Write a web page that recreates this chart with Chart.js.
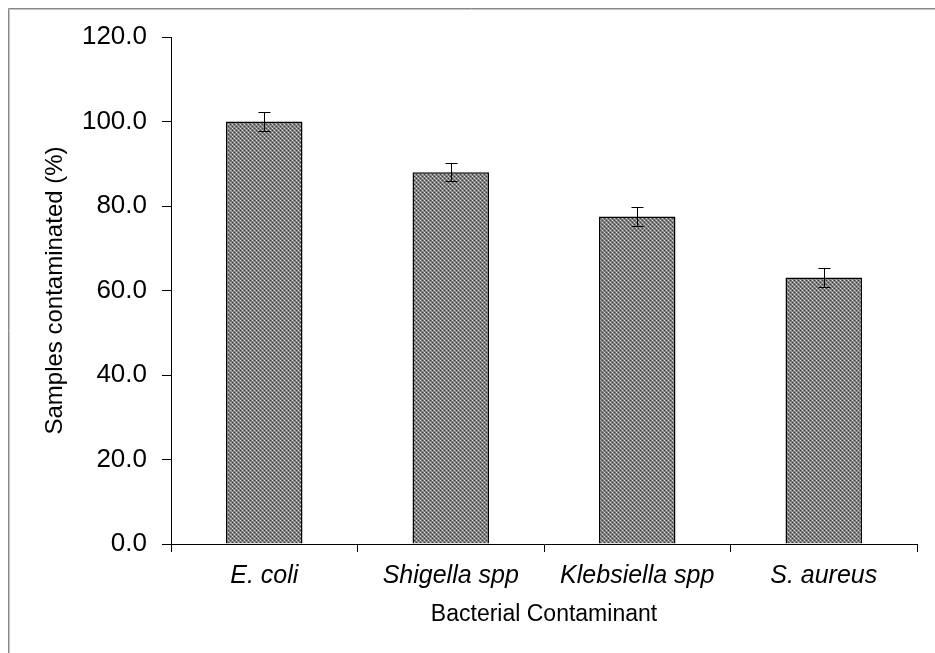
<!DOCTYPE html>
<html lang="en">
<head>
  <meta charset="UTF-8" />
  <title>Bacterial Contaminant</title>
  <script src="https://cdn.jsdelivr.net/npm/chart.js"></script>
  <style>
    html, body { margin: 0; padding: 0; background: #fff; }
    #wrap { width: 935px; height: 653px; }
  </style>
</head>
<body>
  <div id="wrap"><canvas id="chart" width="935" height="653"></canvas></div>
  <script>
    const categories = ['E. coli', 'Shigella spp', 'Klebsiella spp', 'S. aureus'];
    const contaminated = [100.0, 88.0, 77.5, 63.1];
    const errors = [2.2, 2.2, 2.2, 2.2];

    // checkered grey fill like the original
    function makePattern() {
      const c = document.createElement('canvas');
      c.width = 4; c.height = 4;
      const g = c.getContext('2d');
      g.fillStyle = '#7c7c7c';
      g.fillRect(0, 0, 4, 4);
      g.fillStyle = '#d4d4d4';
      g.fillRect(0, 0, 1, 1);
      g.fillRect(2, 2, 1, 1);
      g.fillStyle = '#404040';
      g.fillRect(2, 0, 1, 1);
      g.fillRect(0, 2, 1, 1);
      g.fillStyle = '#a0a0a0';
      g.fillRect(1, 1, 1, 1);
      g.fillRect(3, 3, 1, 1);
      return g.createPattern(c, 'repeat');
    }

    const frame = {
      id: 'frame',
      beforeDraw(chart) {
        const ctx = chart.ctx;
        ctx.save();
        ctx.fillStyle = '#fff';
        ctx.fillRect(0, 0, chart.width, chart.height);
        ctx.strokeStyle = '#8a8a8a';
        ctx.lineWidth = 1;
        ctx.beginPath();
        ctx.moveTo(8.5, chart.height);
        ctx.lineTo(8.5, 8.5);
        ctx.lineTo(chart.width, 8.5);
        ctx.stroke();
        ctx.strokeStyle = '#c4c4c4';
        ctx.beginPath();
        ctx.moveTo(9.5, chart.height);
        ctx.lineTo(9.5, 9.5);
        ctx.lineTo(chart.width, 9.5);
        ctx.stroke();
        ctx.restore();
      }
    };

    const errorBars = {
      id: 'errorBars',
      afterDatasetsDraw(chart) {
        const ctx = chart.ctx;
        const y = chart.scales.y;
        const meta = chart.getDatasetMeta(0);
        ctx.save();
        ctx.strokeStyle = '#000';
        ctx.lineWidth = 1;
        meta.data.forEach((bar, i) => {
          const x = Math.round(bar.x) + 0.5;
          const top = y.getPixelForValue(contaminated[i] + errors[i]);
          const bot = y.getPixelForValue(contaminated[i] - errors[i]);
          ctx.beginPath();
          ctx.moveTo(x, top);
          ctx.lineTo(x, bot);
          ctx.moveTo(x - 6, Math.round(top) + 0.5);
          ctx.lineTo(x + 6, Math.round(top) + 0.5);
          ctx.moveTo(x - 6, Math.round(bot) + 0.5);
          ctx.lineTo(x + 6, Math.round(bot) + 0.5);
          ctx.stroke();
        });
        ctx.restore();
      }
    };

    const font = 'Liberation Sans, Arial, sans-serif';

    new Chart(document.getElementById('chart'), {
      type: 'bar',
      data: {
        labels: categories,
        datasets: [{
          data: contaminated,
          backgroundColor: makePattern(),
          borderColor: '#000',
          borderWidth: 1.5,
          categoryPercentage: 1,
          barPercentage: 0.41
        }]
      },
      options: {
        responsive: false,
        animation: false,
        layout: { padding: { top: 37, right: 18, left: 0, bottom: 0 } },
        plugins: { legend: { display: false }, tooltip: { enabled: false } },
        scales: {
          x: {
            afterFit(s) { s.height = 109; },
            grid: { drawOnChartArea: false, color: '#000', tickLength: 8 },
            border: { color: '#000', width: 1 },
            ticks: { color: '#000', padding: 9, maxRotation: 0, font: { family: font, size: 25, style: 'italic' } },
            title: { display: true, text: 'Bacterial Contaminant', color: '#000', padding: { bottom: 25 }, font: { family: font, size: 23 } }
          },
          y: {
            min: 0,
            max: 120,
            afterFit(s) { s.width = 171; },
            grid: { drawOnChartArea: false, color: '#000', tickLength: 9 },
            border: { color: '#000', width: 1 },
            ticks: {
              stepSize: 20,
              color: '#000',
              padding: 15,
              font: { family: font, size: 26 },
              callback: v => v.toFixed(1)
            },
            title: { display: true, text: 'Samples contaminated (%)', color: '#000', padding: { top: 41 }, font: { family: font, size: 24 } }
          }
        }
      },
      plugins: [frame, errorBars]
    });
  </script>
</body>
</html>
